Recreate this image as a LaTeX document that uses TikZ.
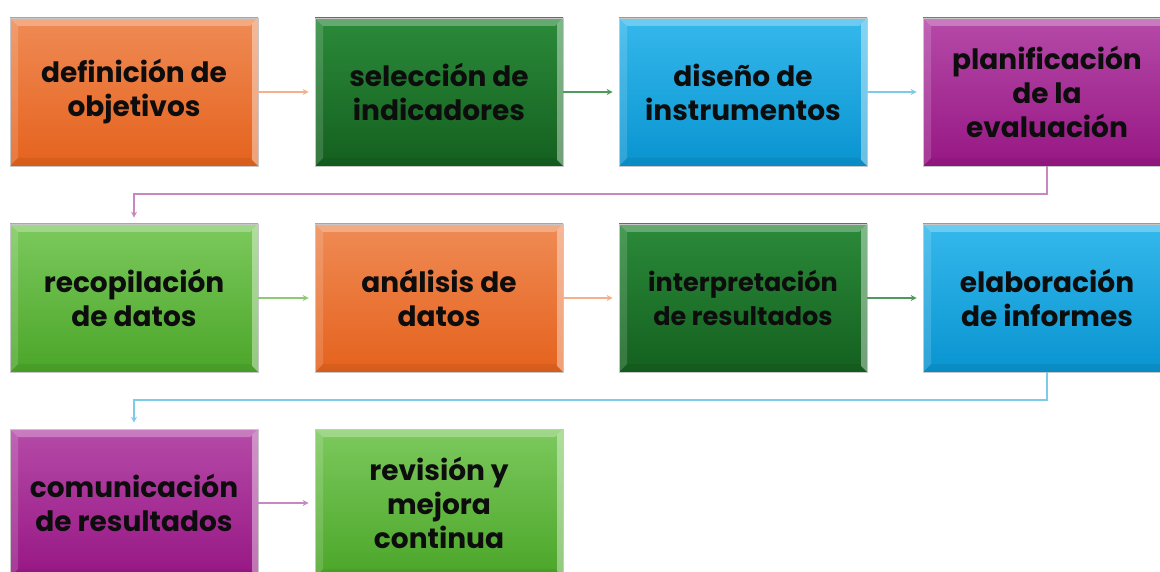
\documentclass[tikz,border=0pt]{standalone}
\usepackage{fontspec}
\setmainfont{Poppins}
\usetikzlibrary{arrows.meta}

\definecolor{naranjaA}{HTML}{EF8B55}
\definecolor{naranjaB}{HTML}{E5621D}
\definecolor{naranjaC}{HTML}{F4B08A}
\definecolor{verdeoA}{HTML}{2B8A3A}
\definecolor{verdeoB}{HTML}{14601F}
\definecolor{verdeoC}{HTML}{4E9A5A}
\definecolor{azulA}{HTML}{35B8EC}
\definecolor{azulB}{HTML}{0994D0}
\definecolor{azulC}{HTML}{7CCBEA}
\definecolor{moradoA}{HTML}{B54AA8}
\definecolor{moradoB}{HTML}{971784}
\definecolor{moradoC}{HTML}{C987BF}
\definecolor{verdecA}{HTML}{7CC95D}
\definecolor{verdecB}{HTML}{4BA629}
\definecolor{verdecC}{HTML}{8CCB72}

\begin{document}
\begin{tikzpicture}[x=1pt, y=-1pt, >=Stealth,
  paso/.style={minimum width=248pt, minimum height=148pt, inner sep=0pt,
    draw=black!22, line width=0.6pt, align=center, text=black!95,
    font=\bfseries\fontsize{28}{34}\selectfont,
    path picture={
      \fill[white, opacity=0.28] (path picture bounding box.north west) -- (path picture bounding box.north east)
        -- ([xshift=-8pt,yshift=-8pt]path picture bounding box.north east) -- ([xshift=8pt,yshift=-8pt]path picture bounding box.north west) -- cycle;
      \fill[white, opacity=0.15] (path picture bounding box.north west) -- ([xshift=8pt,yshift=-8pt]path picture bounding box.north west)
        -- ([xshift=8pt,yshift=8pt]path picture bounding box.south west) -- (path picture bounding box.south west) -- cycle;
      \fill[white, opacity=0.4] (path picture bounding box.north east) -- ([xshift=-6pt,yshift=-6pt]path picture bounding box.north east)
        -- ([xshift=-6pt,yshift=6pt]path picture bounding box.south east) -- (path picture bounding box.south east) -- cycle;
      \fill[black, opacity=0.06] (path picture bounding box.south west) -- ([xshift=8pt,yshift=8pt]path picture bounding box.south west)
        -- ([xshift=-8pt,yshift=8pt]path picture bounding box.south east) -- (path picture bounding box.south east) -- cycle;
    }},
  naranja/.style={paso, top color=naranjaA, bottom color=naranjaB},
  verdeo/.style={paso, top color=verdeoA, bottom color=verdeoB},
  azul/.style={paso, top color=azulA, bottom color=azulB},
  morado/.style={paso, top color=moradoA, bottom color=moradoB},
  verdec/.style={paso, top color=verdecA, bottom color=verdecB},
  flecha/.style={-{Stealth[length=6pt,width=6pt]}, line width=1.8pt, shorten >=6pt}]
  \clip (0,0) rectangle (1160,572);
  % row 1
  \node[naranja] (obj) at (134,92) {definición de\\objetivos};
  \node[verdeo] (ind) at (439,92) {selección de\\indicadores};
  \node[azul] (ins) at (743,92) {diseño de\\instrumentos};
  \node[morado] (plan) at (1047,92) {planificación\\de la\\evaluación};
  % row 2
  \node[verdec] (rec) at (134,298) {recopilación\\de datos};
  \node[naranja] (ana) at (439,298) {análisis de\\datos};
  \node[verdeo, font=\bfseries\fontsize{25.5}{34}\selectfont] (int) at (743,298) {interpretación\\de resultados};
  \node[azul] (inf) at (1047,298) {elaboración\\de informes};
  % row 3
  \node[morado] (com) at (134,503) {comunicación\\de resultados};
  \node[verdec] (rev) at (439,503) {revisión y\\mejora\\continua};
  % arrows
  \draw[flecha, naranjaC] (obj) -- (ind);
  \draw[flecha, verdeoC] (ind) -- (ins);
  \draw[flecha, azulC] (ins) -- (plan);
  \draw[flecha, moradoC] (plan.south) -- ++(0,28) -| (rec.north);
  \draw[flecha, verdecC] (rec) -- (ana);
  \draw[flecha, naranjaC] (ana) -- (int);
  \draw[flecha, verdeoC] (int) -- (inf);
  \draw[flecha, azulC] (inf.south) -- ++(0,28) -| (com.north);
  \draw[flecha, moradoC] (com) -- (rev);
\end{tikzpicture}
\end{document}
